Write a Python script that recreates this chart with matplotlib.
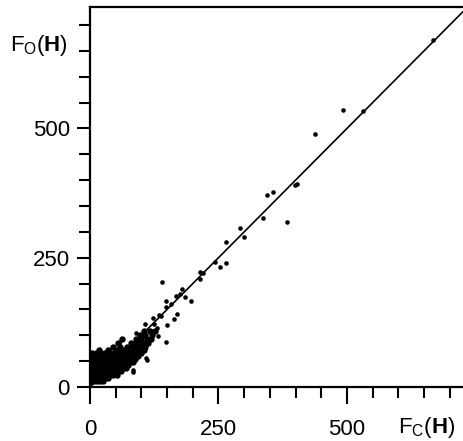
import matplotlib
matplotlib.use("Agg")
import matplotlib.pyplot as plt
from matplotlib.ticker import MultipleLocator

plt.rcParams['font.family'] = ['Liberation Sans', 'DejaVu Sans']
plt.rcParams['mathtext.fontset'] = 'custom'
plt.rcParams['mathtext.rm'] = 'Liberation Sans'
plt.rcParams['mathtext.bf'] = 'Liberation Sans:bold'
plt.rcParams['mathtext.it'] = 'Liberation Sans:italic'

# Dense cluster near the origin (Fc, Fo)
cluster_rows = {
    12: [2, 8, 14, 20, 26],
    18: [1, 6, 12, 18, 24, 30, 36],
    24: [3, 9, 15, 21, 27, 33, 39, 45, 52],
    30: [1, 7, 13, 19, 25, 31, 37, 43, 49, 55, 61],
    36: [4, 10, 16, 22, 28, 34, 40, 46, 52, 58, 64, 70],
    42: [2, 8, 14, 20, 26, 32, 38, 44, 50, 56, 62, 68, 74],
    48: [5, 11, 17, 23, 29, 35, 41, 47, 53, 59, 65, 71, 77, 83],
    54: [3, 9, 15, 21, 27, 33, 39, 45, 51, 57, 63, 69, 75, 81, 88],
    60: [2, 8, 14, 20, 26, 32, 38, 44, 50, 56, 62, 68, 74, 80, 86, 93],
    66: [4, 12, 22, 30, 38, 46, 54, 62, 70, 78, 86, 94, 100],
    72: [18, 36, 50, 60, 68, 76, 84, 92, 98, 105],
    78: [44, 58, 72, 82, 90, 100, 108],
    85: [55, 80, 88, 96, 104, 112],
    92: [62, 90, 100, 110, 118],
    100: [98, 108, 120],
    108: [106, 116, 126],
}

# Scattered reflections away from the cluster
fc_out = [667, 492, 531, 438, 399, 403, 383, 345, 357, 337, 300, 291, 265, 265,
          254, 244, 219, 215, 215, 196, 180, 167, 157, 147, 147, 141, 170, 163,
          138, 122, 124, 132, 147, 109, 83, 56, 89, 107, 110, 83, 130, 150, 135,
          175, 185, 120]
fo_out = [672, 535, 533, 490, 391, 393, 320, 371, 377, 326, 291, 307, 281, 240,
          232, 242, 221, 223, 209, 166, 189, 176, 160, 166, 154, 203, 141, 131,
          137, 133, 121, 98, 88, 57, 29, 86, 105, 121, 53, 33, 115, 120, 140,
          180, 175, 100]

fit_x = [0, 760]
fit_y = [0, 760]

fc_cl = []
fo_cl = []
for yv, xs in cluster_rows.items():
    for xv in xs:
        fc_cl.append(xv)
        fo_cl.append(yv)

W, H = 463, 441
fig = plt.figure(figsize=(W / 100, H / 100), dpi=100)
ax = fig.add_axes([90 / W, (H - 387) / H, (W - 90) / W, (387 - 7) / H])

ax.plot(fit_x, fit_y, color='black', lw=1.2, zorder=2)
ax.plot(fc_cl, fo_cl, 'o', color='black', ms=4.6, mew=0, zorder=3)
ax.plot(fc_out, fo_out, 'o', color='black', ms=3.3, mew=0, zorder=3)

ax.set_xlim(0, 726)
ax.set_ylim(0, 735)

ax.xaxis.set_major_locator(MultipleLocator(250))
ax.xaxis.set_minor_locator(MultipleLocator(50))
ax.yaxis.set_major_locator(MultipleLocator(250))
ax.yaxis.set_minor_locator(MultipleLocator(50))

ax.spines['right'].set_visible(False)
for s in ['left', 'bottom', 'top']:
    ax.spines[s].set_linewidth(1.6)

ax.tick_params(axis='x', which='major', direction='out', length=12, width=1.5,
               labelsize=16, pad=11)
ax.tick_params(axis='x', which='minor', direction='out', length=8, width=1.5)
ax.tick_params(axis='y', which='major', direction='out', length=9.5, width=1.5,
               labelsize=16, pad=5)
ax.tick_params(axis='y', which='minor', direction='out', length=8, width=1.5)
ax.tick_params(top=False, right=False, which='both')

fig.text(68 / W, 1 - 45 / H, r'$\mathrm{F_O(}\mathbf{H}\mathrm{)}$', ha='right',
         va='center', fontsize=16)
fig.text(455 / W, 1 - 427 / H, r'$\mathrm{F_C(}\mathbf{H}\mathrm{)}$', ha='right',
         va='center', fontsize=16)

fig.savefig('out.png', dpi=100)
